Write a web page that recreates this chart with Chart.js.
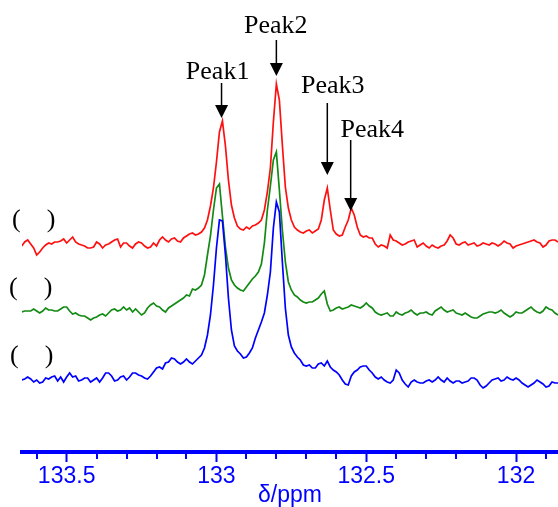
<!DOCTYPE html>
<html lang="en">
<head>
<meta charset="UTF-8">
<title>13C spectrum - peaks</title>
<style>
  body { margin: 0; background: #ffffff; }
  #wrap { width: 558px; height: 507px; }
</style>
</head>
<body>
<div id="wrap"><canvas id="spectrum"></canvas></div>
<script src="https://cdn.jsdelivr.net/npm/chart.js@4.4.1/dist/chart.umd.min.js"></script>
<script>
// chemical shift grid (ppm), 0.01 ppm apart
const ppm = [
  133.65,133.64,133.63,133.62,133.61,133.60,133.59,133.58,133.57,133.56,
  133.55,133.54,133.53,133.52,133.51,133.50,133.49,133.48,133.47,133.46,
  133.45,133.44,133.43,133.42,133.41,133.40,133.39,133.38,133.37,133.36,
  133.35,133.34,133.33,133.32,133.31,133.30,133.29,133.28,133.27,133.26,
  133.25,133.24,133.23,133.22,133.21,133.20,133.19,133.18,133.17,133.16,
  133.15,133.14,133.13,133.12,133.11,133.10,133.09,133.08,133.07,133.06,
  133.05,133.04,133.03,133.02,133.01,133.00,132.99,132.98,132.97,132.96,
  132.95,132.94,132.93,132.92,132.91,132.90,132.89,132.88,132.87,132.86,
  132.85,132.84,132.83,132.82,132.81,132.80,132.79,132.78,132.77,132.76,
  132.75,132.74,132.73,132.72,132.71,132.70,132.69,132.68,132.67,132.66,
  132.65,132.64,132.63,132.62,132.61,132.60,132.59,132.58,132.57,132.56,
  132.55,132.54,132.53,132.52,132.51,132.50,132.49,132.48,132.47,132.46,
  132.45,132.44,132.43,132.42,132.41,132.40,132.39,132.38,132.37,132.36,
  132.35,132.34,132.33,132.32,132.31,132.30,132.29,132.28,132.27,132.26,
  132.25,132.24,132.23,132.22,132.21,132.20,132.19,132.18,132.17,132.16,
  132.15,132.14,132.13,132.12,132.11,132.10,132.09,132.08,132.07,132.06,
  132.05,132.04,132.03,132.02,132.01,132.00,131.99,131.98,131.97,131.96,
  131.95,131.94,131.93,131.92,131.91,131.90,131.89,131.88,131.87,131.86
];

// intensities (stacked, arbitrary units)
const red = [
  206,210,212,208,204,197,200,204,207,209,
  208,210,210,211,213,209,212,215,210,208,
  207,206,204,204,205,210,208,204,207,208,
  210,212,213,205,209,209,206,204,208,210,
  209,206,204,205,209,206,212,215,212,210,
  213,214,211,210,214,216,218,219,217,218,
  220,224,232,246,264,290,320,331,306,272,
  247,234,226,223,222,225,223,226,227,229,
  232,242,260,284,330,368,352,307,265,244,
  232,225,222,220,219,221,222,219,221,223,
  232,252,264,242,222,218,216,217,225,232,
  244,237,225,217,215,216,214,214,208,205,
  207,206,204,217,212,211,209,207,208,210,
  211,212,205,207,209,206,204,207,205,204,
  206,207,211,217,214,208,207,209,210,207,
  208,209,206,207,209,208,207,209,208,206,
  208,211,209,208,204,206,207,208,209,210,
  211,212,210,209,205,207,211,212,212,210
];
const green = [
  140,141,141,141,143,141,139,141,144,142,
  142,141,141,143,145,145,141,138,139,137,
  136,136,134,132,134,135,137,138,136,139,
  142,143,141,142,145,142,144,140,143,140,
  137,139,144,147,149,146,145,142,140,144,
  146,148,150,152,154,157,156,163,162,164,
  167,177,197,216,242,264,268,236,205,184,
  172,167,164,162,161,165,169,173,176,180,
  188,209,242,266,292,300,262,222,190,170,
  162,157,155,152,150,149,150,150,152,154,
  158,161,148,141,142,144,145,143,144,145,
  147,146,145,144,146,149,146,144,140,138,
  137,138,139,136,136,140,138,137,139,140,
  142,139,137,139,139,140,138,137,141,143,
  145,142,140,141,142,139,138,137,139,137,
  135,134,134,136,138,139,140,140,139,140,
  142,139,137,135,137,140,139,139,141,143,
  145,142,140,139,141,145,143,142,139,137
];
const blue = [
  72,73,75,73,70,72,69,70,74,73,
  75,76,71,75,70,75,79,75,76,71,
  72,74,74,70,72,74,70,74,79,79,
  76,71,72,75,76,72,75,79,79,77,
  76,74,73,76,80,84,85,83,89,90,
  94,93,90,88,90,93,90,88,91,94,
  97,104,117,137,167,204,232,231,197,154,
  122,106,101,98,94,95,99,104,114,122,
  130,139,157,180,224,250,240,190,144,117,
  105,99,95,92,87,86,87,84,84,88,
  89,86,91,85,82,80,77,72,68,67,
  76,80,82,85,86,86,82,79,75,73,
  75,72,70,69,72,82,79,72,68,65,
  70,72,70,69,69,71,72,70,72,75,
  72,70,74,71,69,71,71,69,70,71,
  74,74,72,67,64,66,69,72,73,74,
  71,72,75,73,72,74,72,69,67,65,
  67,69,72,70,68,65,66,70,69,69
];

const majorTicks = [133.5, 133, 132.5, 132];
const minorTicks = [133.6, 133.4, 133.3, 133.2, 133.1, 132.9, 132.8, 132.7, 132.6, 132.4, 132.3, 132.2, 132.1, 131.9];

// peak annotations
const peakNames = ['Peak1', 'Peak2', 'Peak3', 'Peak4'];
const peakLabelPpm = [132.996, 132.802, 132.612, 132.48];
const peakLabelY = [373, 419, 359, 315];
const arrowPpm = [132.983, 132.8, 132.63, 132.552];
const arrowTop = [369, 412, 349, 312];
const arrowTip = [334, 376, 277, 241];

// trace labels on the left
const traceLabelY = [225, 157, 89];
const traceLabelShift = [10, 13, 12];

const axisColor = '#0000ff';
const sans = "'Liberation Sans', Arial, sans-serif";
const serif = "'Liberation Serif', 'Times New Roman', serif";

const overlay = {
  id: 'overlay',
  afterDraw(chart) {
    const { ctx, chartArea } = chart;
    const x = chart.scales.x, y = chart.scales.y;
    ctx.save();
    // minor ticks (shorter than the major ones)
    ctx.strokeStyle = axisColor;
    ctx.lineWidth = 2;
    minorTicks.forEach(v => {
      const px = Math.round(x.getPixelForValue(v));
      ctx.beginPath();
      ctx.moveTo(px, x.top);
      ctx.lineTo(px, x.top + 7);
      ctx.stroke();
    });

    // peak labels + arrows
    ctx.fillStyle = '#000';
    ctx.strokeStyle = '#000';
    ctx.lineWidth = 1.5;
    ctx.font = '26px ' + serif;
    ctx.textAlign = 'center';
    ctx.textBaseline = 'alphabetic';
    peakNames.forEach((name, k) => {
      ctx.fillText(name, x.getPixelForValue(peakLabelPpm[k]), y.getPixelForValue(peakLabelY[k]));
      const ax = x.getPixelForValue(arrowPpm[k]);
      const top = y.getPixelForValue(arrowTop[k]);
      const tip = y.getPixelForValue(arrowTip[k]);
      ctx.beginPath();
      ctx.moveTo(ax, top);
      ctx.lineTo(ax, tip - 10);
      ctx.stroke();
      ctx.beginPath();
      ctx.moveTo(ax - 6.5, tip - 13);
      ctx.lineTo(ax + 6.5, tip - 13);
      ctx.lineTo(ax, tip);
      ctx.closePath();
      ctx.fill();
    });

    // "(    )" labels in front of each trace
    ctx.textAlign = 'left';
    traceLabelY.forEach((v, k) => {
      ctx.fillText('(    )', chartArea.left - traceLabelShift[k], y.getPixelForValue(v));
    });
    ctx.restore();
  }
};

new Chart(document.getElementById('spectrum'), {
  type: 'line',
  data: {
    labels: ppm,
    datasets: [
      { data: red, borderColor: '#ff1010', order: 3 },
      { data: green, borderColor: '#138a13', order: 2 },
      { data: blue, borderColor: '#0000ff', order: 1 }
    ].map(d => Object.assign(d, {
      data: d.data.map((v, i) => ({ x: ppm[i], y: v })),
      borderWidth: 1.7,
      pointRadius: 0,
      tension: 0,
      fill: false
    }))
  },
  options: {
    responsive: true,
    maintainAspectRatio: false,
    animation: false,
    layout: { padding: { left: 22, right: 0, top: 0, bottom: 0 } },
    plugins: { legend: { display: false }, tooltip: { enabled: false } },
    scales: {
      x: {
        type: 'linear',
        reverse: true,
        min: 131.86,
        max: 133.649,
        afterBuildTicks: s => { s.ticks = majorTicks.map(v => ({ value: v })); },
        ticks: {
          color: axisColor,
          font: { family: sans, size: 23, lineHeight: 1 },
          padding: 3.5,
          maxRotation: 0,
          autoSkip: false,
          callback: v => String(v)
        },
        grid: { drawOnChartArea: false, drawTicks: true, tickLength: 10, tickColor: axisColor, tickWidth: 2 },
        border: { display: true, color: axisColor, width: 4 },
        title: {
          display: true,
          text: 'δ/ppm',
          color: axisColor,
          font: { family: sans, size: 23, lineHeight: 1 },
          padding: { top: -8, bottom: 0 }
        }
      },
      y: { display: false, min: 0, max: 452 }
    }
  },
  plugins: [overlay]
});
</script>
</body>
</html>
